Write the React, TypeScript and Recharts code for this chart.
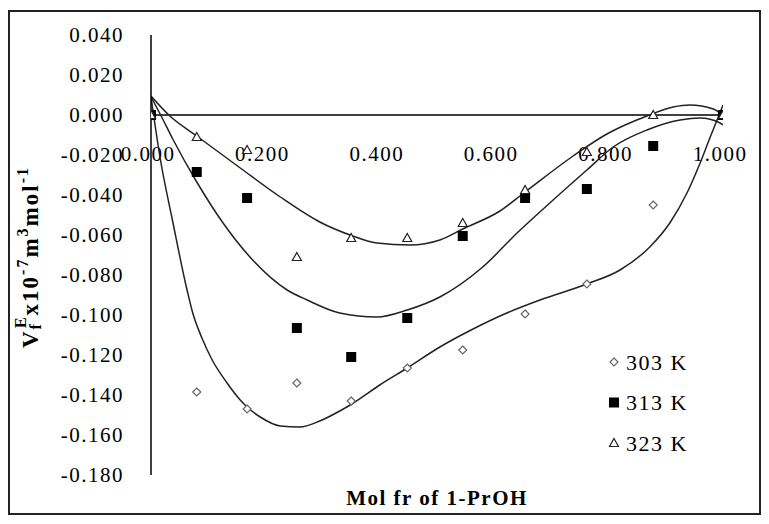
import React from "react";
import {
  ComposedChart,
  Scatter,
  Line,
  XAxis,
  YAxis,
  ReferenceLine,
  Legend,
} from "recharts";

// measured points (mole fraction of 1-PrOH)
const molFrac = [0, 0.08, 0.168, 0.255, 0.35, 0.448, 0.545, 0.654, 0.762, 0.878, 1.0];
const v303 = [0, -0.1385, -0.147, -0.134, -0.143, -0.1265, -0.1175, -0.0995, -0.0845, -0.045, 0];
const v313 = [0, -0.0285, -0.0415, -0.1065, -0.121, -0.1015, -0.0605, -0.0415, -0.037, -0.0155, 0];
const v323 = [0, -0.011, -0.0175, -0.071, -0.0615, -0.0615, -0.054, -0.0375, -0.0185, 0, 0];

// trendlines
const fit303X = [0, 0.0157, 0.0385, 0.063, 0.073, 0.089, 0.107, 0.133, 0.156, 0.168, 0.191, 0.226, 0.26, 0.295, 0.33, 0.351, 0.4, 0.448, 0.505, 0.563, 0.622, 0.68, 0.762, 0.82, 0.872, 0.907, 0.937, 0.96, 0.977, 0.991, 1.0];
const fit303Y = [0.009, -0.021, -0.054, -0.0875, -0.099, -0.1115, -0.1225, -0.134, -0.1425, -0.146, -0.151, -0.1555, -0.156, -0.153, -0.148, -0.1445, -0.135, -0.1265, -0.116, -0.107, -0.099, -0.0925, -0.0845, -0.0775, -0.066, -0.054, -0.039, -0.024, -0.0115, -0.0015, 0.005];
const fit313X = [0, 0.016, 0.038, 0.08, 0.126, 0.173, 0.238, 0.273, 0.33, 0.395, 0.448, 0.505, 0.58, 0.64, 0.703, 0.762, 0.808, 0.867, 0.925, 0.96, 0.995, 1.0];
const fit313Y = [0.009, 0.0005, -0.012, -0.0335, -0.054, -0.071, -0.0875, -0.0925, -0.099, -0.101, -0.0975, -0.091, -0.076, -0.059, -0.0425, -0.0275, -0.016, -0.0075, -0.0025, -0.0015, -0.004, -0.005];
const fit323X = [0, 0.033, 0.08, 0.156, 0.226, 0.295, 0.348, 0.395, 0.453, 0.505, 0.545, 0.61, 0.654, 0.738, 0.797, 0.867, 0.913, 0.942, 0.983, 1.0];
const fit323Y = [0.0095, -0.0005, -0.0105, -0.0265, -0.041, -0.0535, -0.06, -0.064, -0.065, -0.0625, -0.057, -0.048, -0.0385, -0.0205, -0.0095, -0.0005, 0.004, 0.005, 0.003, 0];

const xTicks = [0, 0.2, 0.4, 0.6, 0.8, 1.0];
const yTicks = [-0.18, -0.16, -0.14, -0.12, -0.1, -0.08, -0.06, -0.04, -0.02, 0, 0.02, 0.04];
const seriesNames = ["303 K", "313 K", "323 K"];

const pts = (xs: number[], ys: number[]) => xs.map((x, i) => ({ x, y: ys[i] }));

const FONT = "'Liberation Serif', 'Times New Roman', serif";

const Diamond = ({ cx, cy }: any) => (
  <path
    d={`M${cx},${cy - 4} L${cx + 4},${cy} L${cx},${cy + 4} L${cx - 4},${cy} Z`}
    fill="#fff"
    stroke="#666"
    strokeWidth={1.2}
  />
);
const Square = ({ cx, cy }: any) => (
  <rect x={cx - 5} y={cy - 5} width={10} height={10} fill="#000" />
);
const Triangle = ({ cx, cy }: any) => (
  <path
    d={`M${cx},${cy - 4.5} L${cx + 4.5},${cy + 3.5} L${cx - 4.5},${cy + 3.5} Z`}
    fill="#fff"
    stroke="#222"
    strokeWidth={1.2}
  />
);
const shapes = [Diamond, Square, Triangle];

const XTickLabels = ({ viewBox }: any) => {
  if (!viewBox) return null;
  const { x, y, width } = viewBox;
  return (
    <g>
      {xTicks.map((t) => (
        <text
          key={t}
          x={x + t * width - 3}
          y={y + 39}
          dy="0.355em"
          textAnchor="middle"
          fontFamily={FONT}
          fontSize={21}
          letterSpacing={1.5}
          fill="#000"
        >
          {t.toFixed(3)}
        </text>
      ))}
    </g>
  );
};

const YTitle = ({ viewBox }: any) => {
  const cx = viewBox.x + 20;
  const cy = viewBox.y + 313;
  return (
    <text
      transform={`translate(${cx},${cy}) rotate(-90)`}
      textAnchor="start"
      dominantBaseline="central"
      fontFamily={FONT}
      fontWeight="bold"
      fontSize={23}
      letterSpacing={2}
      fill="#000"
    >
      <tspan>V</tspan>
      <tspan dy={5} fontSize={16}>f</tspan>
      <tspan dx={-6} dy={-15} fontSize={16}>E</tspan>
      <tspan dy={10}>x10</tspan>
      <tspan dy={-8} fontSize={16}>-7</tspan>
      <tspan dy={8}>m</tspan>
      <tspan dy={-8} fontSize={16}>3</tspan>
      <tspan dy={8}>mol</tspan>
      <tspan dy={-8} fontSize={16}>-1</tspan>
    </text>
  );
};

const XTitle = ({ viewBox }: any) => (
  <text
    x={viewBox.x + viewBox.width / 2}
    y={viewBox.y + 23}
    dy="0.355em"
    textAnchor="middle"
    fontFamily={FONT}
    fontWeight="bold"
    fontSize={21}
    letterSpacing={1.5}
    fill="#000"
  >
    Mol fr of 1-PrOH
  </text>
);

const LegendBox = () => (
  <svg width={120} height={120}>
    {seriesNames.map((name, i) => {
      const Shape = shapes[i];
      const cy = 18 + i * 40.5;
      return (
        <g key={name}>
          <Shape cx={6} cy={cy} />
          <text
            x={18}
            y={cy}
            dy="0.355em"
            fontFamily={FONT}
            fontSize={22}
            letterSpacing={1.5}
            fill="#000"
          >
            {name}
          </text>
        </g>
      );
    })}
  </svg>
);

export default function App() {
  const scatterData = [v303, v313, v323].map((v) => pts(molFrac, v));
  const fits = [pts(fit303X, fit303Y), pts(fit313X, fit313Y), pts(fit323X, fit323Y)];

  return (
    <div
      style={{
        marginTop: 2,
        width: 753,
        height: 505,
        boxSizing: "border-box",
        border: "2px solid #222",
        background: "#fff",
      }}
    >
      <ComposedChart
        width={749}
        height={501}
        margin={{ top: 23, right: 36, bottom: 0, left: 0 }}
      >
        <XAxis
          type="number"
          dataKey="x"
          domain={[0, 1]}
          ticks={xTicks}
          allowDataOverflow
          axisLine={false}
          tickLine={false}
          tick={false}
          height={38}
          label={(p: any) => <XTitle viewBox={p.viewBox} />}
        />
        <YAxis
          type="number"
          domain={[-0.18, 0.04]}
          ticks={yTicks}
          allowDataOverflow
          width={141}
          tickSize={0}
          tickMargin={27}
          tickLine={false}
          axisLine={{ stroke: "#000", strokeWidth: 1.5 }}
          tick={{ fontFamily: FONT, fontSize: 21, fill: "#000", letterSpacing: 1.5 } as any}
          tickFormatter={(v: number) => v.toFixed(3)}
          label={(p: any) => <YTitle viewBox={p.viewBox} />}
        />
        <ReferenceLine
          y={0}
          stroke="#000"
          strokeWidth={1.5}
          label={(p: any) => <XTickLabels viewBox={p.viewBox} />}
        />
        {fits.map((d, i) => (
          <Line
            key={"fit" + i}
            data={d}
            dataKey="y"
            type="monotone"
            stroke="#222"
            strokeWidth={1.5}
            dot={false}
            activeDot={false}
            legendType="none"
            isAnimationActive={false}
          />
        ))}
        {scatterData.map((d, i) => (
          <Scatter
            key={seriesNames[i]}
            name={seriesNames[i]}
            data={d}
            dataKey="y"
            shape={shapes[i]}
            isAnimationActive={false}
          />
        ))}
        <Legend
          layout="vertical"
          align="center"
          verticalAlign="middle"
          content={() => <LegendBox />}
          wrapperStyle={{ left: 598, top: 332, width: 120 }}
        />
      </ComposedChart>
    </div>
  );
}
